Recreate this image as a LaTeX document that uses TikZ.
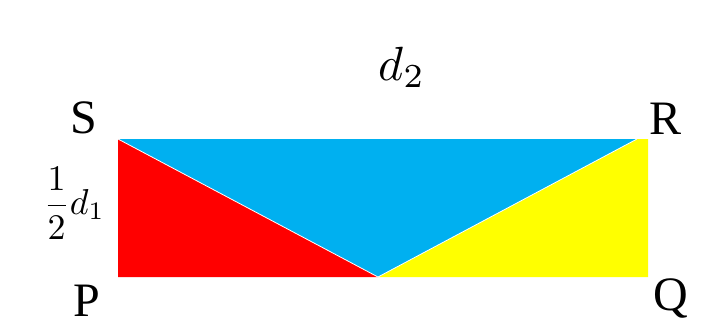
\documentclass[tikz,border=0pt]{standalone}
\usepackage{fontspec}
\setmainfont{Liberation Serif}
\definecolor{cblue}{HTML}{00B0F0}
\definecolor{cred}{HTML}{FF0000}
\definecolor{cyel}{HTML}{FFFF00}
\begin{document}
\begin{tikzpicture}[x=1pt,y=-1pt,
  lab/.style={font=\fontsize{48}{52}\selectfont, inner sep=0pt},
  piece/.style={draw=white, line width=0.8pt, line join=round}]
\useasboundingbox (0,0) rectangle (708,332);
\coordinate (S) at (118,139);
\coordinate (R) at (637,139);
\coordinate (R2) at (648,139);
\coordinate (Q) at (648,277);
\coordinate (P) at (118,277);
\coordinate (A) at (378,277);
\fill[cyel] (A) -- (R) -- (R2) -- (Q) -- cycle;
\fill[cblue] (S) -- (R) -- (A) -- cycle;
\fill[cred] (S) -- (A) -- (P) -- cycle;
\draw[piece] (S) -- (A) -- (R);
\node[lab] (ls) at (84,118) {S};
\node[lab] (lr) at (665,119) {R};
\node[lab] (lp) at (87,301) {P};
\node[lab] (lq) at (671,298) {Q};
\node[inner sep=0pt, scale=4.8] (d2) at (402,67) {$d_2$};
\node[inner sep=0pt, scale=3.6] (d1) at (74,203) {$\displaystyle\frac{1}{2}d_1$};
\end{tikzpicture}
\end{document}
